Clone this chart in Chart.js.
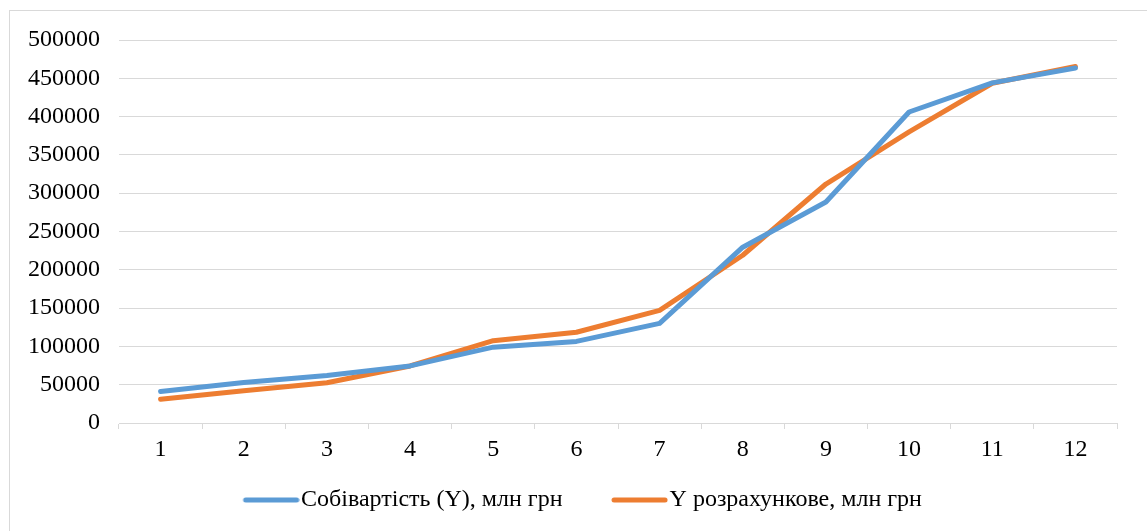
<!DOCTYPE html>
<html>
<head>
<meta charset="utf-8">
<script src="https://cdn.jsdelivr.net/npm/chart.js@4.4.1/dist/chart.umd.min.js"></script>
<style>
    body { margin: 0; background: #fff; }
    #frame { position: absolute; left: 9px; top: 10px; width: 1200px; height: 600px; border: 1px solid #d9d9d9; }
    #wrap { position: absolute; left: 0; top: 0; width: 1147px; height: 531px; }
</style>
</head>
<body>
<div id="frame"></div>
<div id="wrap"><canvas id="cost-chart" width="1147" height="531"></canvas></div>
<script>
const periods = ['1', '2', '3', '4', '5', '6', '7', '8', '9', '10', '11', '12'];
const actualCost = [41000, 53000, 62000, 74500, 99000, 106500, 130000, 229500, 288500, 406000, 444000, 463500];
const estimatedCost = [31000, 42000, 52500, 74500, 107500, 118500, 147000, 219000, 312000, 380000, 443500, 465500];
const seriesNames = ['Собівартість (Y), млн грн', 'Y розрахункове, млн грн'];

const fontFamily = '"Liberation Serif", "Times New Roman", serif';

// legend line sample, drawn on the right side of the box so it touches the text
function legendLine(color) {
    const c = document.createElement('canvas');
    c.width = 106;
    c.height = 10;
    const g = c.getContext('2d');
    g.strokeStyle = color;
    g.lineWidth = 5;
    g.lineCap = 'round';
    g.beginPath();
    g.moveTo(52, 5);
    g.lineTo(103, 5);
    g.stroke();
    return c;
}

const ctx = document.getElementById('cost-chart').getContext('2d');

new Chart(ctx, {
    type: 'line',
    data: {
        labels: periods,
        datasets: [{
            label: seriesNames[0],
            data: actualCost,
            borderColor: '#5B9BD5',
            backgroundColor: '#5B9BD5',
            borderWidth: 5,
            borderCapStyle: 'round',
            borderJoinStyle: 'round',
            pointRadius: 0,
            pointHoverRadius: 0,
            pointStyle: legendLine('#5B9BD5'),
            tension: 0
        }, {
            label: seriesNames[1],
            data: estimatedCost,
            borderColor: '#ED7D31',
            backgroundColor: '#ED7D31',
            borderWidth: 5,
            borderCapStyle: 'round',
            borderJoinStyle: 'round',
            pointRadius: 0,
            pointHoverRadius: 0,
            pointStyle: legendLine('#ED7D31'),
            tension: 0
        }]
    },
    options: {
        responsive: false,
        animation: false,
        layout: { padding: { left: 9, right: 30, top: 40, bottom: 9 } },
        plugins: {
            tooltip: { enabled: false },
            legend: {
                position: 'bottom',
                labels: {
                    usePointStyle: true,
                    pointStyleWidth: 85,
                    boxHeight: 10,
                    padding: 10,
                    color: '#000',
                    font: { family: fontFamily, size: 24 }
                }
            }
        },
        scales: {
            x: {
                offset: true,
                grid: { drawOnChartArea: false, drawTicks: true, tickLength: 6, offset: true, color: '#d9d9d9' },
                border: { display: true, color: '#d9d9d9' },
                ticks: { color: '#000', padding: 6, maxRotation: 0, font: { family: fontFamily, size: 24 } },
                afterFit: (scale) => { scale.height = 55; }
            },
            y: {
                min: 0,
                max: 500000,
                grid: { color: '#d9d9d9', drawTicks: false },
                border: { display: false },
                ticks: {
                    stepSize: 50000,
                    color: '#000',
                    padding: 19,
                    font: { family: fontFamily, size: 24 },
                    callback: (value) => String(value)
                },
                afterFit: (scale) => { scale.width = 110; }
            }
        }
    }
});
</script>
</body>
</html>
